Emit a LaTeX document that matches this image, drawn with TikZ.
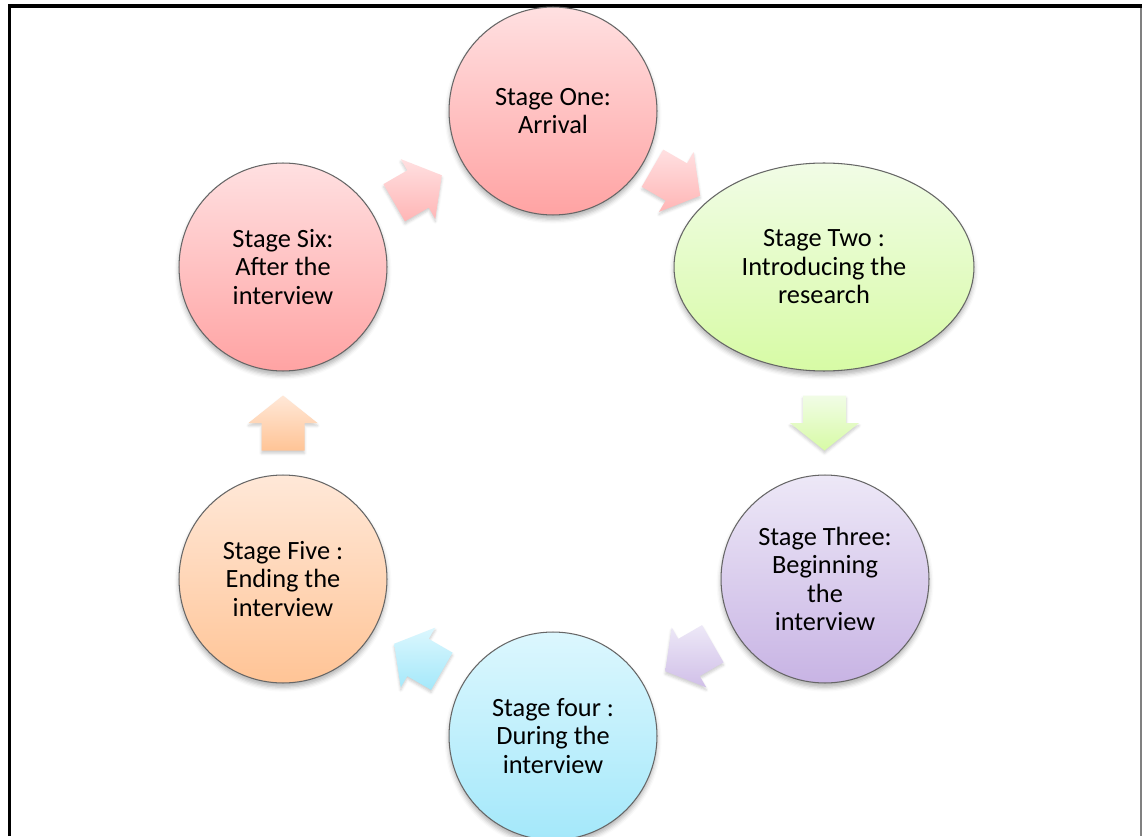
\documentclass[tikz,border=0pt]{standalone}
\usepackage{fontspec}
\setmainfont{Carlito}
\usetikzlibrary{shapes.geometric,calc,shadows.blur}

\definecolor{pinktop}{HTML}{FFE0E1}
\definecolor{pinkbot}{HTML}{FFA3A3}
\definecolor{greentop}{HTML}{F1FCE6}
\definecolor{greenbot}{HTML}{D7FBA5}
\definecolor{purpletop}{HTML}{EDE8F7}
\definecolor{purplebot}{HTML}{C8B4E4}
\definecolor{bluetop}{HTML}{DCF7FE}
\definecolor{bluebot}{HTML}{A4E8FA}
\definecolor{orangetop}{HTML}{FFE8D8}
\definecolor{orangebot}{HTML}{FFC496}

\begin{document}
\begin{tikzpicture}[
  x=0.02cm, y=0.02cm,
  font=\fontsize{15pt}{16.2pt}\selectfont,
  stage/.style={
    circle, draw=black!60, line width=0.6pt,
    minimum size=4.16cm, inner sep=0pt, align=center,
    blur shadow={shadow xshift=0pt, shadow yshift=-2.4pt,
      shadow blur radius=2.5pt, shadow opacity=30}
  },
  tint/.style 2 args={top color=#1, bottom color=#2},
  % block arrow between two stages, top/bottom colours
  pics/flow/.style 2 args={code={
    \path[top color=#1, bottom color=#2,
      blur shadow={shadow xshift=0pt, shadow yshift=-1.5pt,
        shadow blur radius=1.5pt, shadow opacity=20}]
      (-27.5,-21.5) -- (0,-21.5) -- (0,-34.5) -- (27.5,0)
      -- (0,34.5) -- (0,21.5) -- (-27.5,21.5) -- cycle;
  }}
]
\useasboundingbox (0,0) rectangle (1142,836);

%% ── Frame ───────────────────────────────────────────────────────────
\draw[line width=0.08cm] (9.5,0) -- (9.5,830) -- (1142,830);
\draw[black!50, line width=0.03cm] (1141,828) -- (1141,0);

%% ── Stages ──────────────────────────────────────────────────────────
\node[stage, tint={pinktop}{pinkbot}] (one) at (553,725) {Stage One:\\Arrival};
\node[stage, ellipse, minimum width=6cm, minimum height=4.16cm,
  tint={greentop}{greenbot}] (two) at (824,569) {Stage Two :\\Introducing the\\research};
\node[stage, tint={purpletop}{purplebot}] (three) at (825,257) {Stage Three:\\Beginning\\the\\interview};
\node[stage, tint={bluetop}{bluebot}] (four) at (553,100) {Stage four :\\During the\\interview};
\node[stage, tint={orangetop}{orangebot}] (five) at (283,257) {Stage Five :\\Ending the\\interview};
\node[stage, tint={pinktop}{pinkbot}] (six) at (283,569) {Stage Six:\\After the\\interview};

%% ── Arrows between stages ───────────────────────────────────────────
\pic[rotate=-30]  at ($(one)!0.455!(two)$)  {flow={pinktop}{pinkbot!80!white}};
\pic[rotate=-90]  at ($(two)!0.5!(three)$)  {flow={greentop}{greenbot}};
\pic[rotate=-150] at ($(three)!0.5!(four)$) {flow={purpletop}{purplebot!85!white}};
\pic[rotate=150]  at ($(four)!0.5!(five)$)  {flow={bluetop}{bluebot}};
\pic[rotate=90]   at ($(five)!0.5!(six)$)   {flow={orangetop}{orangebot}};
\pic[rotate=30]   at ($(six)!0.5!(one)$)    {flow={pinktop}{pinkbot!80!white}};

\end{tikzpicture}
\end{document}
